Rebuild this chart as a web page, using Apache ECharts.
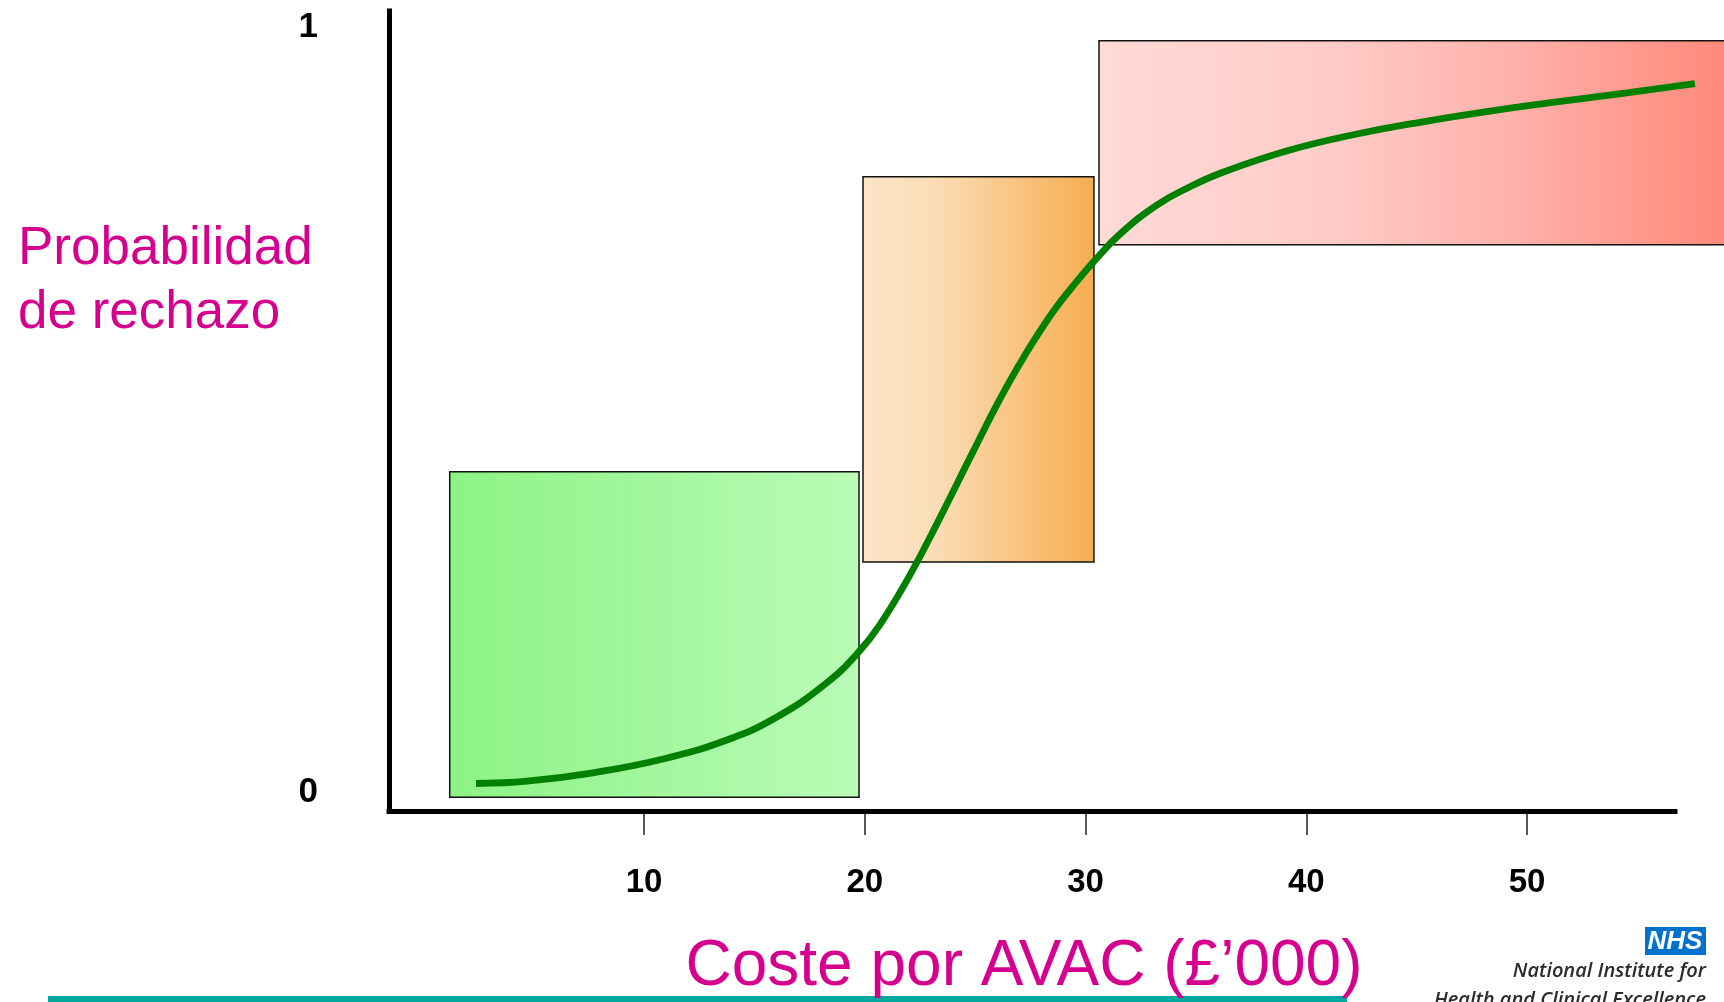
<!DOCTYPE html>
<html>
<head>
<meta charset="utf-8">
<script src="https://cdn.jsdelivr.net/npm/echarts@6/dist/echarts.min.js"></script>
<style>
html,body{margin:0;padding:0;background:#fff;}
#chart{width:1724px;height:1002px;}
</style>
</head>
<body>
<div id="chart"></div>
<script>
// ---- Data ----
const xTickValues = [10, 20, 30, 40, 50];
const yTickValues = [0, 1];
const yTickLabels = ['0', '1'];
const xAxisLineEnd = 56.7;   // where the drawn x-axis line stops

// Zones (cost per QALY, probability of rejection)
const boxXStart = [1.2, 19.92, 30.61];
const boxXEnd   = [19.74, 30.38, 60];
const boxYLow   = [-0.007, 0.301, 0.716];
const boxYHigh  = [0.419, 0.805, 0.983];

// Rejection probability curve
const curveX = [2.39, 4.70, 7.69, 10.72, 13.76, 16.02, 18.29, 19.69, 20.69, 22.05, 23.41, 24.90, 26.12, 27.16, 28.52, 29.66, 30.43, 31.56, 33.23, 34.73, 36.22, 39.26, 42.29, 45.28, 48.32, 51.35, 54.52, 57.60];
const curveY = [0.011, 0.014, 0.025, 0.042, 0.068, 0.098, 0.143, 0.182, 0.219, 0.284, 0.359, 0.445, 0.514, 0.567, 0.628, 0.670, 0.696, 0.730, 0.768, 0.792, 0.811, 0.840, 0.861, 0.877, 0.891, 0.903, 0.915, 0.927];

const yTitleLines = ['Probabilidad', 'de rechazo'];
const xTitle = 'Coste por AVAC (£’000)';

// ---- Styles (kept apart from data) ----
const boxGradients = [
  [[0, '#8CF384'], [1, '#BAFBB7']],
  [[0, '#FCE4C6'], [0.3, '#FBDDB8'], [1, '#F6AD50']],
  [[0, '#FFDAD7'], [0.35, '#FFCCC8'], [0.65, '#FFB0A9'], [1, '#FF8475']]
];
const FONT = '"Liberation Sans", Arial, Helvetica, sans-serif';
const MAGENTA = '#D6008F';

const chart = echarts.init(document.getElementById('chart'), null, {renderer: 'canvas'});

const boxData = boxXStart.map((x0, i) => [x0, boxXEnd[i], boxYLow[i], boxYHigh[i], i]);
const curveData = curveX.map((x, i) => [x, curveY[i]]);

const X_MIN = -1.55, X_MAX = 58.0, Y_MIN = -0.025, Y_MAX = 1.022;

const option = {
  backgroundColor: '#ffffff',
  animation: false,
  grid: {left: 389, right: 20.3, top: 11, bottom: 191, containLabel: false},
  xAxis: {
    type: 'value',
    min: X_MIN,
    max: X_MAX,
    axisLine: {show: false, onZero: false},
    axisTick: {show: true, customValues: xTickValues, length: 24, lineStyle: {color: '#222', width: 1.5}},
    axisLabel: {
      show: true, customValues: xTickValues, margin: 55,
      fontFamily: FONT, fontWeight: 'bold', fontSize: 33, color: '#000'
    },
    splitLine: {show: false}
  },
  yAxis: {
    type: 'value',
    min: Y_MIN,
    max: Y_MAX,
    axisLine: {show: true, onZero: false, lineStyle: {color: '#000', width: 5, cap: 'square'}},
    axisTick: {show: false},
    axisLabel: {
      show: true, customValues: yTickValues, margin: 71,
      formatter: v => yTickLabels[yTickValues.indexOf(v)] ?? '',
      fontFamily: FONT, fontWeight: 'bold', fontSize: 35, color: '#000'
    },
    splitLine: {show: false}
  },
  series: [
    {
      type: 'custom',
      clip: false,
      z: 1,
      data: boxData,
      renderItem: function (params, api) {
        const x0 = api.value(0), x1 = api.value(1), y0 = api.value(2), y1 = api.value(3);
        const idx = api.value(4);
        const p0 = api.coord([x0, y1]);
        const p1 = api.coord([x1, y0]);
        const stops = boxGradients[idx].map(s => ({offset: s[0], color: s[1]}));
        return {
          type: 'rect',
          shape: {x: p0[0], y: p0[1], width: p1[0] - p0[0], height: p1[1] - p0[1]},
          style: {
            fill: new echarts.graphic.LinearGradient(0, 0, 1, 0, stops),
            stroke: '#111',
            lineWidth: 1.5
          }
        };
      }
    },
    {
      type: 'line',
      data: curveData,
      smooth: 0.45,
      symbol: 'none',
      clip: false,
      z: 5,
      lineStyle: {color: '#008000', width: 6.8, cap: 'butt'},
      markLine: {
        silent: true,
        symbol: ['none', 'none'],
        label: {show: false},
        clip: false,
        lineStyle: {color: '#000', width: 5, type: 'solid', cap: 'square'},
        data: [[{coord: [X_MIN, Y_MIN]}, {coord: [xAxisLineEnd, Y_MIN]}]]
      }
    }
  ],
  graphic: [
    {type: 'text', silent: true, position: [18, 249],
     style: {text: yTitleLines[0], font: '53px ' + FONT, fill: MAGENTA, align: 'left', verticalAlign: 'middle'}},
    {type: 'text', silent: true, position: [18, 313],
     style: {text: yTitleLines[1], font: '53px ' + FONT, fill: MAGENTA, align: 'left', verticalAlign: 'middle'}},
    {type: 'rect', silent: true, z: 1, shape: {x: 48, y: 996, width: 1299, height: 6}, style: {fill: '#00A99D'}},
    {type: 'text', silent: true, z: 10, position: [1024, 967],
     style: {text: xTitle, font: '64px ' + FONT, fill: MAGENTA, align: 'center', verticalAlign: 'middle'}},
    {type: 'rect', silent: true, shape: {x: 1645, y: 927, width: 61, height: 28}, style: {fill: '#0072CE'}},
    {type: 'text', silent: true, position: [1675, 941.5],
     style: {text: 'NHS', font: 'italic bold 26px ' + FONT, fill: '#fff', align: 'center', verticalAlign: 'middle'}},
    {type: 'text', silent: true, position: [1706, 971],
     style: {text: 'National Institute for', font: 'italic 600 20px "Open Sans", ' + FONT, fill: '#2b2b2b', align: 'right', verticalAlign: 'middle'}},
    {type: 'text', silent: true, position: [1706, 1000],
     style: {text: 'Health and Clinical Excellence', font: 'italic 600 20px "Open Sans", ' + FONT, fill: '#2b2b2b', align: 'right', verticalAlign: 'middle'}}
  ]
};
chart.setOption(option);
</script>
</body>
</html>
